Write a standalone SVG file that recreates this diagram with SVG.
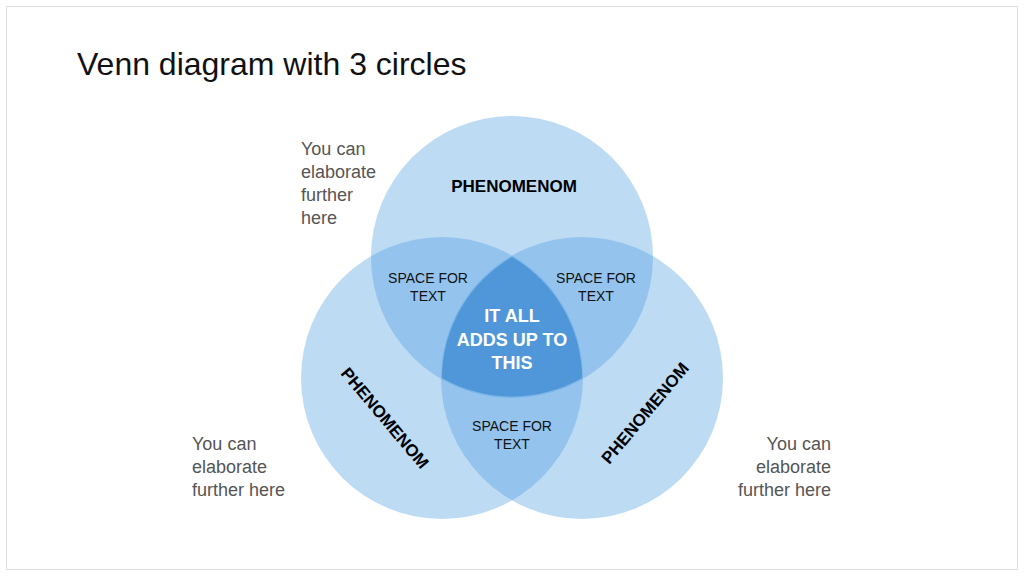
<svg xmlns="http://www.w3.org/2000/svg" width="1024" height="576" viewBox="0 0 1024 576">
<style>
text{font-family:"Liberation Sans",Arial,sans-serif}
.c{fill:#4c9be0;fill-opacity:0.36}
.ph{font-size:17px;font-weight:bold;fill:#000;text-anchor:middle}
.sp{font-size:14px;fill:#111;text-anchor:middle}
.side{font-size:18px;fill:#555}
</style>
<rect x="0" y="0" width="1024" height="576" fill="#fff"/>
<rect x="6.5" y="6.5" width="1011" height="563" fill="none" stroke="#ddd"/>
<text x="77" y="75" font-size="32" fill="#111">Venn diagram with 3 circles</text>
<g id="circles">
<circle id="top" class="c" cx="512" cy="257" r="141"/>
<circle id="left" class="c" cx="442" cy="378" r="141"/>
<circle id="right" class="c" cx="582" cy="378" r="141"/>
<path id="center" d="M512,257 A141,141 0 0,1 582,378 A141,141 0 0,1 442,378 A141,141 0 0,1 512,257Z" fill="#4f97d9"/>
</g>
<g id="labels">
<text class="ph" x="514" y="192">PHENOMENOM</text>
<text class="ph" transform="translate(385,418) rotate(50)" y="6">PHENOMENOM</text>
<text class="ph" transform="translate(645,413) rotate(-50)" y="6">PHENOMENOM</text>
<text class="sp" x="428" y="283">SPACE FOR</text>
<text class="sp" x="428" y="301">TEXT</text>
<text class="sp" x="596" y="283">SPACE FOR</text>
<text class="sp" x="596" y="301">TEXT</text>
<text class="sp" x="512" y="431">SPACE FOR</text>
<text class="sp" x="512" y="449">TEXT</text>
<g font-size="18" font-weight="bold" fill="#fff" text-anchor="middle">
<text x="512" y="322">IT ALL</text>
<text x="512" y="346">ADDS UP TO</text>
<text x="512" y="369">THIS</text>
</g>
<text class="side" x="301" y="155">You can</text>
<text class="side" x="301" y="178">elaborate</text>
<text class="side" x="301" y="201">further</text>
<text class="side" x="301" y="224">here</text>
<text class="side" x="192" y="450">You can</text>
<text class="side" x="192" y="473">elaborate</text>
<text class="side" x="192" y="496">further here</text>
<g text-anchor="end"><text class="side" x="831" y="450">You can</text>
<text class="side" x="831" y="473">elaborate</text>
<text class="side" x="831" y="496">further here</text></g>
</g>
</svg>
